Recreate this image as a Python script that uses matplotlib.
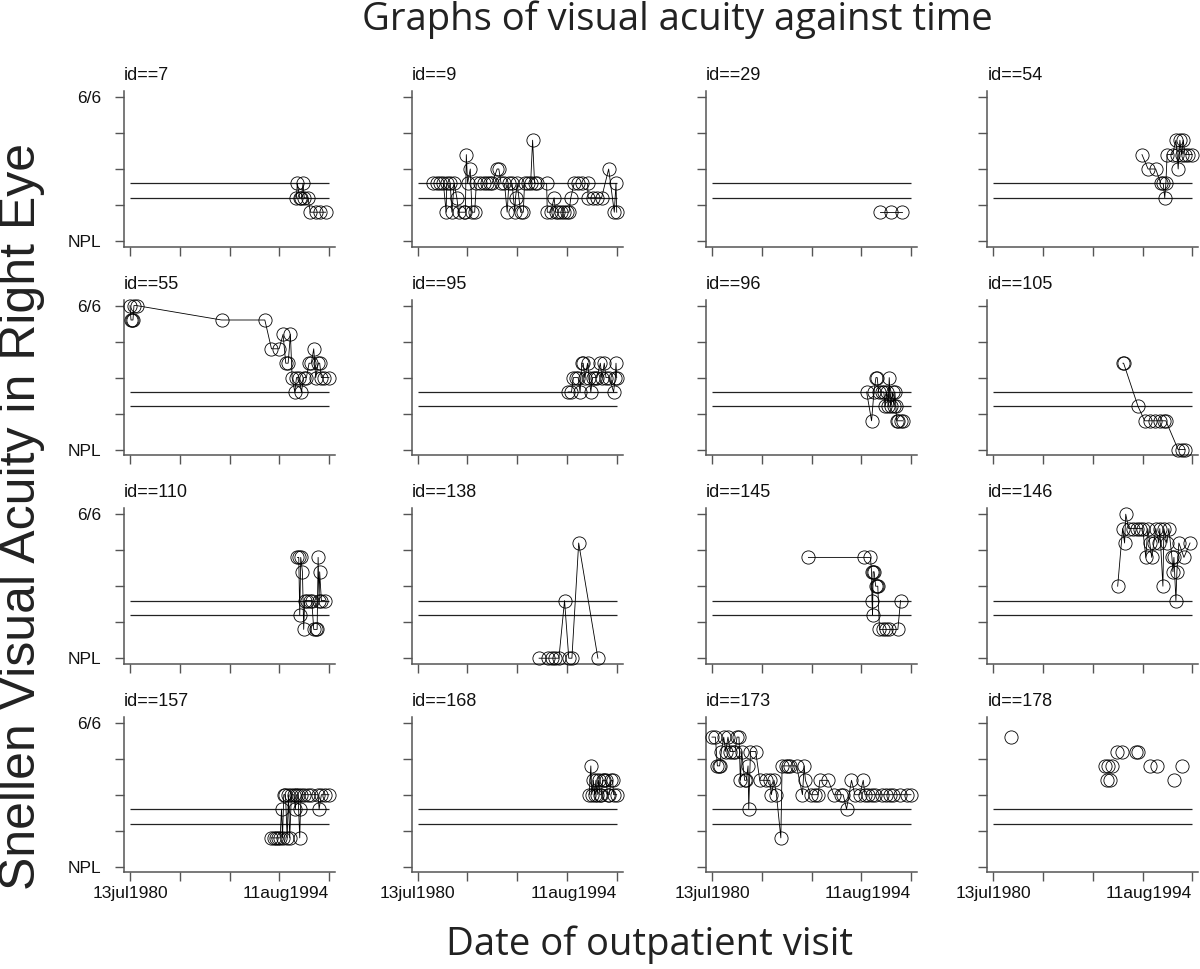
import matplotlib
matplotlib.use('Agg')
import matplotlib.pyplot as plt

plt.rcParams['font.family'] = ['Liberation Sans', 'DejaVu Sans']

# ---------------- data (decimal year of visit, acuity on 0=NPL .. 1=6/6 scale) -------------
ids = [7, 9, 29, 54, 55, 95, 96, 105, 110, 138, 145, 146, 157, 168, 173, 178]

id7_t = [1992.30, 1992.37, 1992.53, 1992.66, 1992.77, 1992.86, 1993.12, 1993.29, 1993.67, 1994.00, 1994.37]
id7_va = [0.3, 0.4, 0.3, 0.3, 0.4, 0.3, 0.3, 0.2, 0.2, 0.2, 0.2]

id9_t = [1981.64, 1981.88, 1982.12, 1982.35, 1982.54, 1982.59, 1982.83, 1982.95, 1983.11, 1983.30,
         1983.42, 1983.78, 1983.90, 1983.97, 1984.06, 1984.25, 1984.37, 1984.56, 1984.68, 1984.91,
         1985.20, 1985.44, 1985.63, 1985.79, 1986.15, 1986.27, 1986.43, 1986.67, 1986.86, 1986.98,
         1987.21, 1987.40, 1987.45, 1987.57, 1987.81, 1988.00, 1988.09, 1988.33, 1988.52, 1988.66,
         1988.80, 1988.99, 1989.65, 1989.70, 1989.94, 1990.18, 1990.29, 1990.46, 1990.65, 1990.89,
         1991.08, 1991.24, 1991.36, 1991.60, 1991.88, 1992.19, 1992.55, 1992.59, 1992.90, 1993.21,
         1993.54, 1994.04, 1994.44, 1994.56, 1994.61]
id9_va = [0.4, 0.4, 0.4, 0.4, 0.2, 0.4, 0.4, 0.2, 0.4, 0.3,
          0.2, 0.2, 0.2, 0.6, 0.4, 0.5, 0.2, 0.2, 0.4, 0.4,
          0.4, 0.4, 0.4, 0.4, 0.5, 0.5, 0.4, 0.4, 0.2, 0.4,
          0.4, 0.2, 0.3, 0.4, 0.2, 0.2, 0.4, 0.4, 0.4, 0.7,
          0.4, 0.4, 0.4, 0.2, 0.2, 0.3, 0.2, 0.2, 0.2, 0.2,
          0.2, 0.2, 0.3, 0.4, 0.4, 0.4, 0.4, 0.3, 0.3, 0.3,
          0.3, 0.5, 0.2, 0.4, 0.2]

id29_t = [1992.41, 1993.17, 1993.95]
id29_va = [0.2, 0.2, 0.2]

id54_t = [1991.05, 1991.48, 1992.02, 1992.38, 1992.55, 1992.66, 1992.74, 1992.83, 1993.21, 1993.45,
          1993.54, 1993.61, 1993.73, 1993.85, 1993.97, 1994.09, 1994.32, 1994.61]
id54_va = [0.6, 0.5, 0.5, 0.4, 0.4, 0.3, 0.4, 0.6, 0.6, 0.7,
           0.6, 0.5, 0.7, 0.6, 0.7, 0.6, 0.6, 0.6]

id55_t = [1980.53, 1980.60, 1980.67, 1980.74, 1980.81, 1981.00, 1987.01, 1990.07, 1990.54, 1991.08,
          1991.36, 1991.55, 1991.72, 1991.88, 1992.00, 1992.19, 1992.31, 1992.49, 1992.66, 1992.82,
          1993.01, 1993.20, 1993.36, 1993.53, 1993.67, 1993.84, 1993.95, 1994.07, 1994.24, 1994.61]
id55_va = [1.0, 0.9, 0.9, 0.9, 1.0, 1.0, 0.9, 0.9, 0.7, 0.7,
           0.8, 0.6, 0.6, 0.8, 0.5, 0.4, 0.5, 0.5, 0.4, 0.5,
           0.5, 0.6, 0.6, 0.7, 0.5, 0.6, 0.6, 0.5, 0.5, 0.5]

id95_t = [1991.17, 1991.41, 1991.55, 1991.72, 1991.88, 1992.02, 1992.14, 1992.24, 1992.36, 1992.55,
          1992.66, 1992.78, 1992.90, 1993.07, 1993.21, 1993.45, 1993.57, 1993.73, 1993.85, 1994.09,
          1994.39, 1994.51, 1994.56, 1994.61]
id95_va = [0.4, 0.4, 0.5, 0.5, 0.5, 0.4, 0.6, 0.6, 0.5, 0.6,
           0.5, 0.4, 0.5, 0.5, 0.5, 0.6, 0.5, 0.6, 0.5, 0.5,
           0.4, 0.5, 0.6, 0.5]

id96_t = [1991.47, 1991.82, 1991.99, 1992.13, 1992.22, 1992.32, 1992.53, 1992.69, 1992.77, 1992.88,
          1993.00, 1993.07, 1993.17, 1993.31, 1993.40, 1993.47, 1993.54, 1993.59, 1993.71, 1993.88,
          1994.02]
id96_va = [0.4, 0.2, 0.4, 0.5, 0.5, 0.4, 0.4, 0.4, 0.3, 0.4,
           0.3, 0.5, 0.3, 0.4, 0.3, 0.4, 0.3, 0.2, 0.2, 0.2,
           0.2]

id105_t = [1989.70, 1989.75, 1990.77, 1991.24, 1991.60, 1991.95, 1992.31, 1992.59, 1992.74, 1993.61,
           1993.85, 1994.09]
id105_va = [0.6, 0.6, 0.3, 0.2, 0.2, 0.2, 0.2, 0.2, 0.2, 0.0,
            0.0, 0.0]

id110_t = [1992.38, 1992.47, 1992.54, 1992.61, 1992.73, 1992.82, 1992.89, 1993.06, 1993.25, 1993.39,
           1993.53, 1993.67, 1993.77, 1993.84, 1993.91, 1993.95, 1994.07, 1994.31]
id110_va = [0.7, 0.7, 0.3, 0.7, 0.6, 0.2, 0.4, 0.4, 0.4, 0.4,
            0.2, 0.2, 0.2, 0.7, 0.4, 0.6, 0.4, 0.4]

id138_t = [1989.12, 1989.75, 1990.00, 1990.26, 1990.52, 1990.92, 1991.22, 1991.44, 1991.92, 1993.28]
id138_va = [0.0, 0.0, 0.0, 0.0, 0.0, 0.4, 0.0, 0.0, 0.8, 0.0]

id145_t = [1987.35, 1991.26, 1991.74, 1991.82, 1991.85, 1991.89, 1991.93, 1992.00, 1992.11, 1992.19,
           1992.26, 1992.38, 1992.64, 1992.86, 1993.05, 1993.68, 1993.87]
id145_va = [0.7, 0.7, 0.7, 0.6, 0.4, 0.3, 0.6, 0.6, 0.5, 0.5,
            0.5, 0.2, 0.2, 0.2, 0.2, 0.2, 0.4]

id146_t = [1989.33, 1989.68, 1989.82, 1989.90, 1990.11, 1990.39, 1990.68, 1990.89, 1991.10, 1991.32,
           1991.46, 1991.60, 1991.74, 1991.89, 1992.03, 1992.24, 1992.31, 1992.53, 1992.60, 1992.81,
           1992.95, 1993.17, 1993.24, 1993.31, 1993.45, 1993.52, 1993.66, 1994.02, 1994.45]
id146_va = [0.5, 0.9, 0.8, 1.0, 0.9, 0.9, 0.9, 0.9, 0.9, 0.7,
            0.9, 0.8, 0.7, 0.8, 0.9, 0.8, 0.9, 0.5, 0.9, 0.8,
            0.9, 0.7, 0.6, 0.7, 0.4, 0.6, 0.8, 0.7, 0.8]

id157_t = [1990.49, 1990.70, 1990.89, 1991.03, 1991.15, 1991.25, 1991.32, 1991.41, 1991.53, 1991.65,
           1991.74, 1991.83, 1991.95, 1992.12, 1992.23, 1992.31, 1992.42, 1992.54, 1992.59, 1992.66,
           1992.82, 1993.13, 1993.36, 1993.84, 1993.91, 1994.07, 1994.31, 1994.61]
id157_va = [0.2, 0.2, 0.2, 0.2, 0.2, 0.4, 0.2, 0.5, 0.5, 0.2,
            0.5, 0.2, 0.5, 0.5, 0.4, 0.5, 0.5, 0.2, 0.4, 0.5,
            0.5, 0.5, 0.5, 0.5, 0.4, 0.5, 0.5, 0.5]

id168_t = [1992.66, 1992.78, 1992.85, 1992.95, 1993.04, 1993.14, 1993.23, 1993.33, 1993.42, 1993.52,
           1993.61, 1993.73, 1993.85, 1993.97, 1994.09, 1994.20, 1994.32, 1994.39, 1994.61]
id168_va = [0.5, 0.7, 0.5, 0.6, 0.5, 0.6, 0.5, 0.6, 0.5, 0.5,
            0.6, 0.6, 0.6, 0.5, 0.5, 0.6, 0.6, 0.5, 0.5]

id173_t = [1980.53, 1980.77, 1980.91, 1981.00, 1981.07, 1981.19, 1981.36, 1981.50, 1981.66, 1981.83,
           1982.02, 1982.16, 1982.30, 1982.44, 1982.54, 1982.63, 1982.84, 1982.96, 1983.08, 1983.13,
           1983.25, 1983.62, 1983.91, 1984.33, 1984.62, 1984.73, 1984.92, 1985.09, 1985.40, 1985.49,
           1985.75, 1985.92, 1986.08, 1986.51, 1986.93, 1987.05, 1987.14, 1987.52, 1987.80, 1988.04,
           1988.16, 1988.75, 1989.15, 1989.69, 1989.81, 1990.05, 1990.40, 1990.64, 1990.99, 1991.23,
           1991.35, 1991.58, 1991.82, 1992.06, 1992.53, 1992.84, 1993.12, 1993.36, 1993.83, 1994.30,
           1994.61]
id173_va = [0.9, 0.9, 0.7, 0.7, 0.7, 0.8, 0.9, 0.8, 0.9, 0.8,
            0.8, 0.8, 0.9, 0.9, 0.6, 0.8, 0.6, 0.6, 0.7, 0.4,
            0.8, 0.8, 0.6, 0.6, 0.6, 0.5, 0.6, 0.5, 0.2, 0.7,
            0.7, 0.7, 0.7, 0.7, 0.5, 0.7, 0.6, 0.5, 0.5, 0.5,
            0.6, 0.6, 0.5, 0.5, 0.5, 0.4, 0.6, 0.5, 0.5, 0.6,
            0.5, 0.5, 0.5, 0.5, 0.5, 0.5, 0.5, 0.5, 0.5, 0.5,
            0.5]

id178_t = [1981.76, 1988.45, 1988.56, 1988.64, 1988.80, 1988.90, 1989.28, 1989.65, 1990.60, 1990.77,
           1991.60, 1992.12, 1993.33, 1993.85]
id178_va = [0.9, 0.7, 0.6, 0.7, 0.6, 0.7, 0.8, 0.8, 0.8, 0.8,
            0.7, 0.7, 0.6, 0.7]

ref_levels = [0.4, 0.3]
first_visit, last_visit = 1980.53, 1994.61
date_labels = ['13jul1980', '11aug1994']
yticks = [0, 0.25, 0.5, 0.75, 1.0]
ytick_labels = ['NPL', '', '', '', '6/6']

series = [(id7_t, id7_va), (id9_t, id9_va), (id29_t, id29_va), (id54_t, id54_va),
          (id55_t, id55_va), (id95_t, id95_va), (id96_t, id96_va), (id105_t, id105_va),
          (id110_t, id110_va), (id138_t, id138_va), (id145_t, id145_va), (id146_t, id146_va),
          (id157_t, id157_va), (id168_t, id168_va), (id173_t, id173_va), (id178_t, id178_va)]
unconnected = [178]

# ---------------- layout ----------------
W, H = 1200, 969
fig = plt.figure(figsize=(W / 100, H / 100), dpi=100)

col_left = [124, 411.7, 706, 987.3]
row_top = [97, 305.6, 514.2, 722.7]
unit = 144.0
span_px = 199.0
ax_w = span_px + 12
pad_years = 6.0 / span_px * (last_visit - first_visit)
spine_col = '#555555'

for i, (pid, (ts, vas)) in enumerate(zip(ids, series)):
    r, c = divmod(i, 4)
    top = row_top[r] - 0.04 * unit
    hgt = 1.08 * unit
    ax = fig.add_axes([col_left[c] / W, 1 - (top + hgt) / H, ax_w / W, hgt / H])
    ax.set_xlim(first_visit - pad_years, last_visit + pad_years)
    ax.set_ylim(-0.04, 1.04)
    for s in ['top', 'right']:
        ax.spines[s].set_visible(False)
    for s in ['left', 'bottom']:
        ax.spines[s].set_color(spine_col)
        ax.spines[s].set_linewidth(1.1)
    ax.hlines(ref_levels, first_visit, last_visit, color='#222222', lw=0.9, zorder=1)
    ls = 'none' if pid in unconnected else '-'
    ax.plot(ts, vas, linestyle=ls, color='black', lw=0.6, marker='o', ms=9.5,
            mfc='none', mec='black', mew=0.6, zorder=3, clip_on=False)
    xt = [first_visit + k * (last_visit - first_visit) / 4 for k in range(5)]
    ax.set_xticks(xt)
    ax.set_yticks(yticks)
    ax.tick_params(axis='both', direction='out', length=6.5, width=1.0, color=spine_col,
                   labelsize=12.5, labelcolor='#111111')
    ax.tick_params(axis='y', pad=10)
    ax.tick_params(axis='x', pad=3)
    if c == 0:
        ax.set_yticklabels(ytick_labels)
    else:
        ax.set_yticklabels([''] * 5)
    if r == 3:
        labs = ax.set_xticklabels([date_labels[0], '', '', '', date_labels[1]])
        labs[4].set_horizontalalignment('right')
    else:
        ax.set_xticklabels([''] * 5)
    ax.set_title('id==%d' % pid, loc='left', fontsize=13, pad=8, color='#111111')

fig.text(677 / W, 1 - 20 / H, 'Graphs of visual acuity against time', ha='center', va='center',
         fontsize=27.5, family=['Open Sans', 'DejaVu Sans'], color='#222222')
fig.text(650 / W, 1 - 945 / H, 'Date of outpatient visit', ha='center', va='center',
         fontsize=27.5, family=['Open Sans', 'DejaVu Sans'], color='#222222')
fig.text(22 / W, 1 - 517 / H, 'Snellen Visual Acuity in Right Eye', ha='center', va='center',
         rotation=90, fontsize=36, color='#222222')

fig.savefig('out.png', dpi=100)
